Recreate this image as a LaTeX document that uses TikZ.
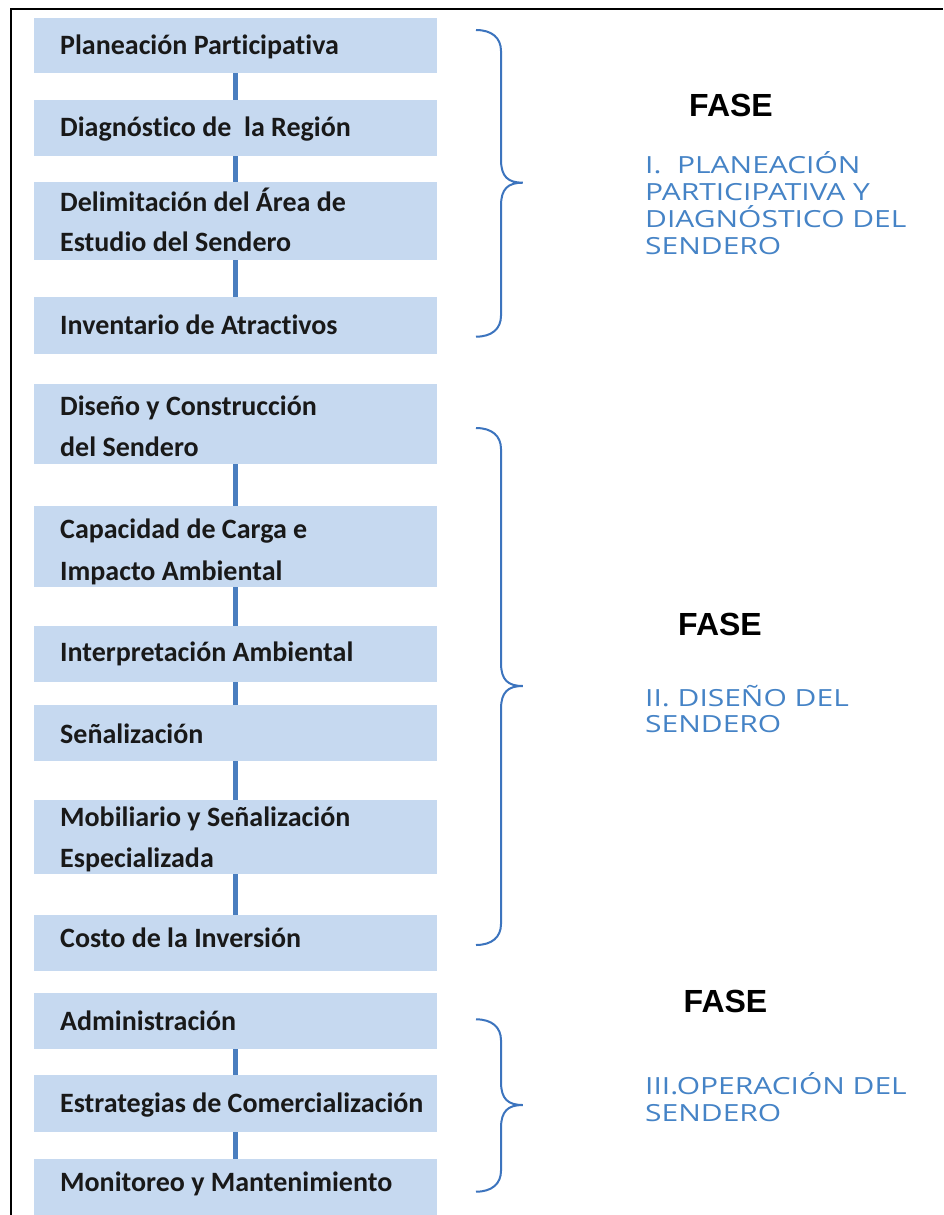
\documentclass[tikz,border=0pt]{standalone}
\usepackage{fontspec}
\newfontfamily\boxfont[Ligatures={NoCommon}]{Carlito}
\newfontfamily\fasefont{Liberation Sans}
\newfontfamily\bluefont[FakeStretch=1.27]{Open Sans}
\definecolor{boxfill}{HTML}{C6D9F0}
\definecolor{conncol}{HTML}{4A7EBF}
\definecolor{bracecol}{HTML}{3C74BE}
\definecolor{bluetext}{HTML}{4583C6}
\begin{document}
\begin{tikzpicture}[x=1pt,y=-1pt,
  box/.style={fill=boxfill, draw=none, inner sep=0pt, minimum width=403pt, anchor=north west},
  btext/.style={anchor=base west, inner sep=0pt, font=\boxfont\bfseries\fontsize{28}{40}\selectfont, text=black!90},
  conn/.style={draw=conncol, line width=5pt},
  bracestyle/.style={draw=bracecol, line width=2pt},
  fase/.style={anchor=base west, inner sep=0pt, font=\fasefont\bfseries\fontsize{32}{38}\selectfont},
  phase/.style={anchor=base west, inner sep=0pt, font=\bluefont\fontsize{23.6}{26.7}\selectfont, text=bluetext}]
\useasboundingbox (0,0) rectangle (943,1215);
\fill[white] (0,0) rectangle (943,1215);
% frame
\draw[line width=2pt] (11,1215) -- (11,9) -- (943,9);
% boxes
\node[box, minimum height=55pt] (b1) at (34,18) {};
\node[box, minimum height=56pt] (b2) at (34,100) {};
\node[box, minimum height=78pt] (b3) at (34,182) {};
\node[box, minimum height=57pt] (b4) at (34,297) {};
\node[box, minimum height=80pt] (b5) at (34,384) {};
\node[box, minimum height=81pt] (b6) at (34,506) {};
\node[box, minimum height=56pt] (b7) at (34,626) {};
\node[box, minimum height=56pt] (b8) at (34,705) {};
\node[box, minimum height=74pt] (b9) at (34,800) {};
\node[box, minimum height=56pt] (b10) at (34,915) {};
\node[box, minimum height=56pt] (b11) at (34,993) {};
\node[box, minimum height=57pt] (b12) at (34,1075) {};
\node[box, minimum height=56pt] (b13) at (34,1159) {};
% connectors
\draw[conn] (b1.south) -- (b2.north);
\draw[conn] (b2.south) -- (b3.north);
\draw[conn] (b3.south) -- (b4.north);
\draw[conn] (b5.south) -- (b6.north);
\draw[conn] (b6.south) -- (b7.north);
\draw[conn] (b7.south) -- (b8.north);
\draw[conn] (b8.south) -- (b9.north);
\draw[conn] (b9.south) -- (b10.north);
\draw[conn] (b11.south) -- (b12.north);
\draw[conn] (b12.south) -- (b13.north);
% box texts
\node[btext] (t1) at (60,55) {Planeación Participativa};
\node[btext] (t2) at (60,136) {Diagnóstico de\ \ la Región};
\node[btext] (t3a) at (60,211.5) {Delimitación del Área de};
\node[btext] (t3b) at (60,251.5) {Estudio del Sendero};
\node[btext] (t4) at (60,334) {Inventario de Atractivos};
\node[btext] (t5a) at (60,415) {Diseño y Construcción};
\node[btext] (t5b) at (60,456) {del Sendero};
\node[btext] (t6a) at (60,538) {Capacidad de Carga e};
\node[btext] (t6b) at (60,580) {Impacto Ambiental};
\node[btext] (t7) at (60,661) {Interpretación Ambiental};
\node[btext] (t8) at (60,743) {Señalización};
\node[btext] (t9a) at (60,826) {Mobiliario y Señalización};
\node[btext] (t9b) at (60,867) {Especializada};
\node[btext] (t10) at (60,947) {Costo de la Inversión};
\node[btext] (t11) at (60,1030) {Administración};
\node[btext] (t12) at (60,1112) {Estrategias de Comercialización};
\node[btext] (t13) at (60,1191.5) {Monitoreo y Mantenimiento};
% braces
\foreach \ya/\ym/\yb in {30/182.7/336.7, 428/686/945, 1019.3/1105/1191.7}{
  \draw[bracestyle] (476,\ya) .. controls (492,\ya) and (501,\ya+8) .. (501,\ya+21)
    -- (501,\ym-23) .. controls (501,\ym-6) and (508,\ym) .. (522.7,\ym)
    .. controls (508,\ym) and (501,\ym+6) .. (501,\ym+23)
    -- (501,\yb-21) .. controls (501,\yb-8) and (492,\yb) .. (476,\yb);
}
% FASE labels
\node[fase] (f1) at (689,116.7) {FASE};
\node[fase] (f2) at (678,635) {FASE};
\node[fase] (f3) at (683.5,1012) {FASE};
% phase names
\node[phase] (p1a) at (645,173.3) {I.\ \ PLANEACIÓN};
\node[phase] (p1b) at (645,200) {PARTICIPATIVA Y};
\node[phase] (p1c) at (645,227.3) {DIAGNÓSTICO DEL};
\node[phase] (p1d) at (645,254) {SENDERO};
\node[phase] (p2a) at (645,706) {II. DISEÑO DEL};
\node[phase] (p2b) at (645,732.7) {SENDERO};
\node[phase] (p3a) at (645,1094) {III.OPERACIÓN DEL};
\node[phase] (p3b) at (645,1121.7) {SENDERO};
\end{tikzpicture}
\end{document}
